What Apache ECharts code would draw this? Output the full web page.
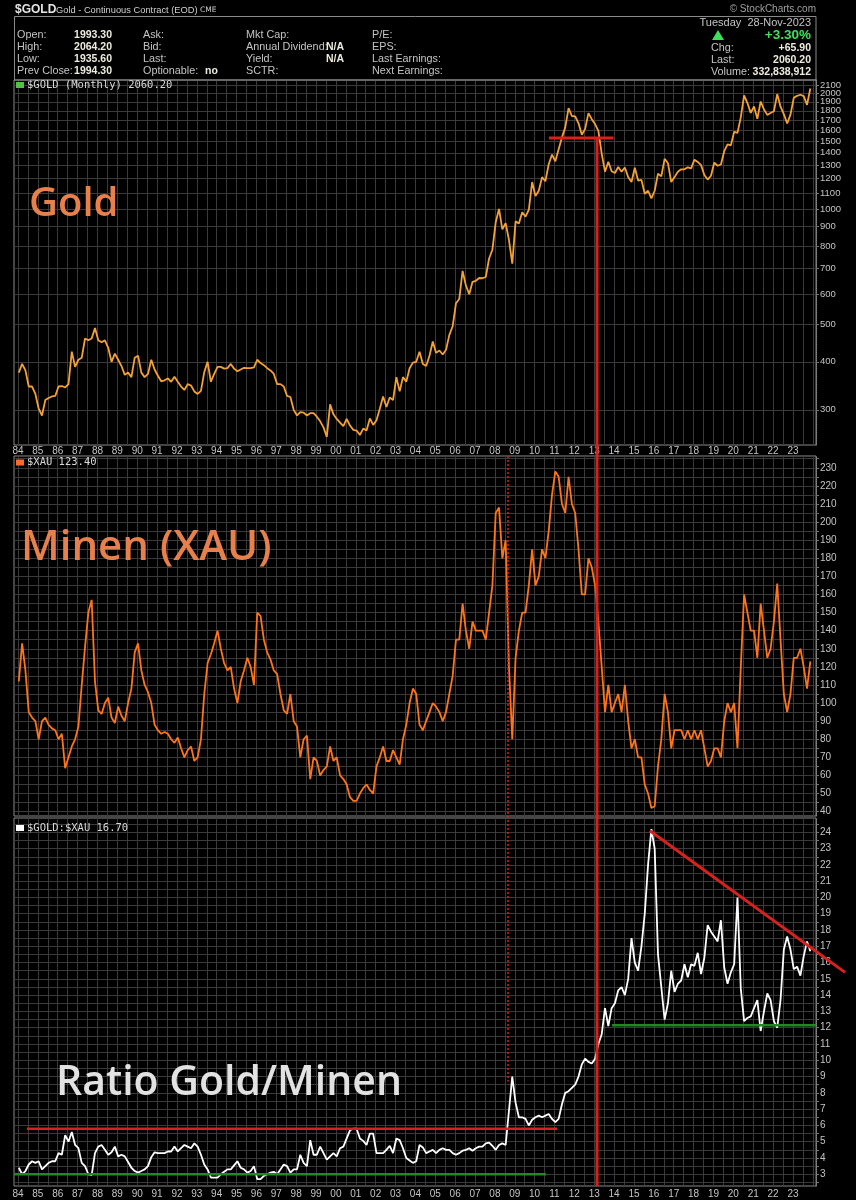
<!DOCTYPE html>
<html><head><meta charset="utf-8">
<script src="https://cdn.jsdelivr.net/npm/echarts@6/dist/echarts.min.js"></script>
<style>html,body{margin:0;padding:0;background:#000;}#c{width:856px;height:1200px;}</style>
</head><body><div id="c"></div>
<script>
// ---------- DATA (bimonthly samples: Jan, Mar, May, Jul, Sep, Nov of each year, 1984-2023) ----------
const startYear = 1984;
const samplesPerYear = 6;

const goldValues = [
  375,395,380,345,345,330,   302,290,318,322,325,326,   345,346,343,350,425,388,
  405,410,460,455,460,490,   455,450,455,435,400,420,   405,390,370,375,365,410,
  415,375,365,372,405,382,   368,356,358,362,355,366,   355,345,338,350,347,335,
  330,336,376,400,355,372,   388,388,384,385,395,384,   378,382,386,385,385,387,
  405,397,392,385,380,372,   350,350,345,326,324,300,   290,296,295,290,294,294,
  288,280,270,255,310,292,   284,278,272,284,273,266,   265,258,268,265,285,274,
  282,302,325,305,323,318,   365,335,365,355,385,398,   400,425,395,390,415,452,
  422,428,418,430,470,495,   568,583,690,632,600,646,   650,661,660,665,743,783,
  923,1000,885,918,830,720,  928,916,980,955,995,1175,  1080,1115,1210,1180,1307,1385,
  1330,1430,1535,1630,1830,1745, 1740,1670,1560,1615,1775,1712, 1663,1596,1393,1250,1327,1253,
  1240,1285,1250,1282,1210,1175, 1280,1185,1190,1095,1115,1065, 1115,1235,1215,1350,1315,1175,
  1210,1250,1268,1268,1283,1275, 1343,1325,1300,1225,1192,1220, 1320,1295,1305,1413,1472,1463,
  1587,1577,1730,1975,1886,1778, 1848,1715,1903,1815,1757,1776, 1795,1990,1845,1765,1668,1760,
  1945,1969,1982,1965,1866,2057
];

const xauValues = [
  112,133,118,95,92,90,   80,90,92,88,86,85,   80,83,64,70,76,80,
  87,110,131,150,157,112, 96,94,100,103,92,89, 98,93,90,100,108,128,
  133,118,110,106,100,88, 85,83,84,83,80,78,   81,75,70,74,76,68,
  70,80,105,122,127,133,  140,130,122,118,120,108, 100,112,118,125,120,110,
  150,148,135,128,124,118, 116,105,96,94,105,90, 87,70,80,82,58,70,
  68,60,63,65,76,68,      70,60,58,55,48,46,   46,50,53,55,52,50,
  65,70,76,68,68,74,      70,66,80,88,100,108, 105,88,85,90,95,100,
  98,95,90,95,105,115,    135,135,155,140,130,145, 140,140,140,135,150,165,
  205,208,180,190,120,80, 125,140,150,150,165,185, 165,170,185,180,195,215,
  228,225,210,205,225,210, 205,185,160,160,180,175, 165,145,120,95,110,95,
  100,105,95,110,90,75,   80,70,70,55,50,42,   43,65,80,105,95,75,
  85,85,85,80,85,80,      85,80,85,75,65,68,   75,75,70,90,100,95,
  100,75,120,160,150,140, 140,125,155,140,125,130, 145,166,135,105,95,105,
  125,125,130,120,108,123
];

const ratioValues = [
  3.4,3.0,3.2,3.6,3.8,3.7,   3.8,3.3,3.5,3.7,3.8,3.8,   4.3,4.2,5.4,5.0,5.6,4.8,
  4.6,3.7,3.5,3.0,2.95,4.3,  4.7,4.8,4.5,4.2,4.35,4.7,  4.1,4.2,4.1,3.75,3.4,3.2,
  3.1,3.2,3.3,3.5,4.05,4.35, 4.3,4.3,4.3,4.4,4.4,4.7,   4.4,4.6,4.8,4.7,4.6,4.9,
  4.7,4.2,3.6,3.3,2.8,2.8,   2.8,3.0,3.15,3.3,3.3,3.55, 3.8,3.4,3.3,3.1,3.2,3.5,
  2.7,2.7,2.9,3.0,3.1,3.15,  3.0,3.3,3.6,3.5,3.1,3.3,   3.3,4.2,3.7,3.5,5.1,4.2,
  4.2,4.7,4.3,3.9,4.1,4.3,   4.1,4.6,4.7,5.2,5.7,5.8,   5.8,5.2,5.05,4.8,5.5,5.5,
  4.3,4.3,4.3,4.5,4.75,4.3,  5.2,5.1,4.6,4.0,3.85,3.7,  3.8,4.8,4.65,4.3,4.4,4.5,
  4.3,4.5,4.6,4.5,4.5,4.3,   4.2,4.3,4.45,4.5,4.6,4.45, 4.6,4.7,4.7,4.9,4.95,4.75,
  4.5,4.8,4.9,4.8,6.9,9.0,   7.4,6.5,6.5,6.4,6.0,6.35,  6.5,6.6,6.5,6.6,6.7,6.4,
  6.2,6.4,7.3,8.0,8.1,8.3,   8.5,9.0,9.75,10.1,9.9,9.8, 10.1,11.0,11.6,13.2,12.1,13.2,
  13.5,14.3,14.5,14.0,15.0,17.5, 16.0,15.5,17.0,19.0,22.0,24.2, 23.0,16.5,14.5,12.5,13.5,15.5,
  14.2,14.7,14.9,15.9,15.1,15.9, 15.8,16.6,15.3,16.3,18.3,17.9, 17.6,17.3,18.6,15.7,14.7,15.4,
  15.9,20.0,14.4,12.4,12.6,12.7, 13.2,13.7,11.8,13.0,14.1,13.7, 12.4,12.0,13.7,16.8,17.6,16.8,
  15.6,15.75,15.2,16.4,17.3,16.7
];

// tick labels
const yearLabels = ['84','85','86','87','88','89','90','91','92','93','94','95','96','97','98','99',
  '00','01','02','03','04','05','06','07','08','09','10','11','12','13','14','15','16','17','18','19',
  '20','21','22','23'];
const goldTicks = [300,400,500,600,700,800,900,1000,1100,1200,1300,1400,1500,1600,1700,1800,1900,2000,2100];
const xauTicks = [40,50,60,70,80,90,100,110,120,130,140,150,160,170,180,190,200,210,220,230];
const ratioTicks = [3,4,5,6,7,8,9,10,11,12,13,14,15,16,17,18,19,20,21,22,23,24];

// annotation values (in data units)
const goldTopLine = {from: 2010.72, to: 2013.95, value: 1530};
const breakYear = 2013.14;
const crashYear = 2008.66;
const crashRatio = 8.7;
const ratioResistance = {from: 1984.45, to: 2011.13, value: 5.8};
const ratioSupportOld = {from: 1983.8, to: 2010.57, value: 3.0};
const ratioSupportNew = {from: 2013.9, to: 2024.16, value: 12.15};
const ratioTrend = {from: [2015.8, 24.1], to: [2025.62, 15.4]};

// ---------- BUILD ----------
const xMin = 1983.8, xMax = 2024.16;
const goldMin = 243, goldMax = 2165;
const xauMin = 37.6, xauMax = 236.5;
const ratioMin = 2.28, ratioMax = 24.88;

const yearValues = yearLabels.map((l, i) => startYear + i);
const halfYears = []; for (let y = 1984; y <= 2024; y += 0.5) halfYears.push(y);
const xauGrid = []; for (let v = 40; v <= 235; v += 5) xauGrid.push(v);
const ratioGrid = []; for (let v = 2.5; v <= 24.5; v += 0.5) ratioGrid.push(v);
// gold labels split over two overlaid axes (alternating) so dense top labels are never auto-hidden
const goldLabelsA = goldTicks.filter((v, i) => i % 2 === 0);
const goldLabelsB = goldTicks.filter((v, i) => i % 2 === 1);

const timeOf = i => startYear + (2 * (i % samplesPerYear) + 0.5) / 12 + Math.floor(i / samplesPerYear);
const pairs = arr => arr.map((v, i) => [timeOf(i), v]);

const GRID_C = '#3a3a3a';
const LABEL_C = '#c4c4c4';

function xAxisCfg(i) {
  return {
    type: 'value', gridIndex: i, min: xMin, max: xMax,
    axisLine: {show: false},
    axisTick: {show: false, customValues: halfYears},
    axisLabel: {show: i !== 1, customValues: yearValues, formatter: v => yearLabels[Math.round(v) - startYear],
      color: LABEL_C, fontSize: 10, fontFamily: 'Liberation Sans', margin: i === 0 ? 1 : 3,
      showMinLabel: true, showMaxLabel: true},
    splitLine: {show: true, lineStyle: {color: GRID_C, width: 1}}
  };
}
function yAxisCfg(i, type, min, max, grid, labels, fs) {
  return {
    type: type, gridIndex: i, min: min, max: max, position: 'right',
    axisLine: {show: true, lineStyle: {color: '#888', type: 'dotted'}},
    axisTick: {show: true, length: 3, customValues: grid, lineStyle: {color: '#777'}},
    axisLabel: {customValues: labels, formatter: v => String(Math.round(v)), color: LABEL_C,
      fontSize: fs, fontFamily: 'Liberation Sans', margin: 4, hideOverlap: false,
      showMinLabel: true, showMaxLabel: true},
    splitLine: {show: true, lineStyle: {color: GRID_C, width: 1}}
  };
}

const goldAxisB = {
  type: 'log', logBase: 10, gridIndex: 0, min: goldMin, max: goldMax, position: 'right',
  axisLine: {show: false}, axisTick: {show: false}, splitLine: {show: false},
  axisLabel: {customValues: goldLabelsB, formatter: v => String(Math.round(v)), color: LABEL_C,
    fontSize: 9.5, fontFamily: 'Liberation Sans', margin: 4, showMinLabel: true, showMaxLabel: true}
};

const option = {
  backgroundColor: '#000',
  animation: false,
  grid: [
    {left: 14, right: 40, top: 80, height: 365, show: true, borderColor: '#8a8a8a', borderWidth: 1},
    {left: 14, right: 40, top: 456, height: 360, show: true, borderColor: '#8a8a8a', borderWidth: 1},
    {left: 14, right: 40, top: 818, height: 368, show: true, borderColor: '#8a8a8a', borderWidth: 1}
  ],
  xAxis: [xAxisCfg(0), xAxisCfg(1), xAxisCfg(2)],
  yAxis: [
    Object.assign(yAxisCfg(0, 'log', goldMin, goldMax, goldTicks, goldLabelsA, 9.5), {logBase: 10}),
    yAxisCfg(1, 'value', xauMin, xauMax, xauGrid, xauTicks, 10),
    yAxisCfg(2, 'value', ratioMin, ratioMax, ratioGrid, ratioTicks, 10),
    goldAxisB
  ],
  series: [
    {type: 'line', xAxisIndex: 0, yAxisIndex: 0, data: pairs(goldValues), symbol: 'none',
      lineStyle: {color: '#f4a236', width: 1.8}, z: 3},
    {type: 'line', xAxisIndex: 1, yAxisIndex: 1, data: pairs(xauValues), symbol: 'none',
      lineStyle: {color: '#ff7418', width: 1.8}, z: 3},
    {type: 'line', xAxisIndex: 2, yAxisIndex: 2, data: pairs(ratioValues), symbol: 'none',
      lineStyle: {color: '#ffffff', width: 1.8}, z: 3}
  ]
};

const chart = echarts.init(document.getElementById('c'), null, {renderer: 'canvas'});
chart.setOption(option);

// ---------- GRAPHIC (texts + annotation lines placed through the chart's scales) ----------
const px = (g, pt) => chart.convertToPixel({xAxisIndex: g, yAxisIndex: g}, pt);
const els = [];
function txt(x, y, text, o) {
  o = o || {};
  els.push({type: 'text', x: x, y: y, z: 60, silent: true, style: {
    text: text, fill: o.fill || '#c4c4c4', fontSize: o.size || 10.8, fontFamily: o.family || 'Liberation Sans',
    fontWeight: o.weight || 'normal', align: o.align || 'left', verticalAlign: o.va || 'middle'}});
}
function seg(a, b, color, width, dash) {
  els.push({type: 'line', z: 50, silent: true, shape: {x1: a[0], y1: a[1], x2: b[0], y2: b[1]},
    style: {stroke: color, lineWidth: width, lineDash: dash || null}});
}

// header box
els.push({type: 'rect', z: 40, silent: true, shape: {x: 14.5, y: 16.5, width: 801.5, height: 63.5},
  style: {fill: 'none', stroke: '#8a8a8a', lineWidth: 1}});
txt(15, 10, '$GOLD', {size: 12, weight: 'bold', family: 'Liberation Sans', fill: '#e4e4e4'});
txt(56, 10.5, 'Gold - Continuous Contract (EOD)', {size: 9.3, family: 'Liberation Sans', fill: '#d0d0d0'});
txt(200, 10.5, 'CME', {size: 7.5, family: 'DejaVu Sans', fill: '#d0d0d0'});
txt(816, 9, '\u00a9 StockCharts.com', {size: 10, align: 'right', fill: '#a0a0a0'});

const rowsY = [35, 47, 59.5, 71.5];
const VAL_C = '#ecebdc';
const VS = 10.5;
[['Open:', '1993.30'], ['High:', '2064.20'], ['Low:', '1935.60'], ['Prev Close:', '1994.30']].forEach((r, i) => {
  txt(17, rowsY[i], r[0]);
  txt(112, rowsY[i], r[1], {size: VS, weight: 'bold', align: 'right', fill: VAL_C});
});
['Ask:', 'Bid:', 'Last:', 'Optionable:'].forEach((t, i) => txt(143, rowsY[i], t));
txt(205, rowsY[3], 'no', {size: VS, weight: 'bold', fill: VAL_C});
['Mkt Cap:', 'Annual Dividend:', 'Yield:', 'SCTR:'].forEach((t, i) => txt(246, rowsY[i], t));
txt(344, rowsY[1], 'N/A', {size: VS, weight: 'bold', align: 'right', fill: VAL_C});
txt(344, rowsY[2], 'N/A', {size: VS, weight: 'bold', align: 'right', fill: VAL_C});
['P/E:', 'EPS:', 'Last Earnings:', 'Next Earnings:'].forEach((t, i) => txt(372, rowsY[i], t));

txt(811, 23, 'Tuesday  28-Nov-2023', {size: 11, align: 'right'});
els.push({type: 'polygon', z: 60, silent: true, shape: {points: [[718, 30], [712, 40], [724, 40]]}, style: {fill: '#3ee05a'}});
txt(811, 35, '+3.30%', {size: 13.5, weight: 'bold', align: 'right', fill: '#3ee05a'});
txt(711, 48, 'Chg:');
txt(811, 48, '+65.90', {size: VS, weight: 'bold', align: 'right', fill: VAL_C});
txt(711, 60, 'Last:');
txt(811, 60, '2060.20', {size: VS, weight: 'bold', align: 'right', fill: VAL_C});
txt(711, 72, 'Volume:');
txt(811, 72, '332,838,912', {size: VS, weight: 'bold', align: 'right', fill: VAL_C});

// panel legends
function legend(y, color, text) {
  els.push({type: 'rect', z: 60, silent: true, shape: {x: 16, y: y - 3, width: 8, height: 6}, style: {fill: color}});
  txt(27, y, text, {size: 10.5, family: 'DejaVu Sans Mono', fill: '#d8d8d8'});
}
legend(85, '#49c83a', '$GOLD (Monthly) 2060.20');
legend(462.5, '#ff6a2a', '$XAU 123.40');
legend(828, '#ffffff', '$GOLD:$XAU 16.70');

// big labels
txt(29, 205, 'Gold', {size: 40, family: 'Open Sans', weight: 600, fill: '#e8804c'});
txt(21, 548, 'Minen (XAU)', {size: 42, family: 'Open Sans', weight: 600, fill: '#e8804c'});
txt(56, 1083, 'Ratio Gold/Minen', {size: 41, family: 'Open Sans', weight: 600, fill: '#e2e2e2'});

// annotation lines
const RED = '#d8201c', GREEN = '#1f8a24';
seg(px(0, [goldTopLine.from, goldTopLine.value]), px(0, [goldTopLine.to, goldTopLine.value]), RED, 3);
seg(px(0, [breakYear, goldTopLine.value]), px(2, [breakYear, ratioMin]), RED, 3);
seg(px(1, [crashYear, xauMax]), px(2, [crashYear, crashRatio]), RED, 1.5, [2, 2]);
seg(px(2, [ratioResistance.from, ratioResistance.value]), px(2, [ratioResistance.to, ratioResistance.value]), RED, 2.5);
seg(px(2, [ratioSupportOld.from, ratioSupportOld.value]), px(2, [ratioSupportOld.to, ratioSupportOld.value]), GREEN, 2.5);
seg(px(2, [ratioSupportNew.from, ratioSupportNew.value]), px(2, [ratioSupportNew.to, ratioSupportNew.value]), GREEN, 2.5);
seg(px(2, ratioTrend.from), px(2, ratioTrend.to), RED, 3);

chart.setOption({graphic: els});
</script>
</body></html>
